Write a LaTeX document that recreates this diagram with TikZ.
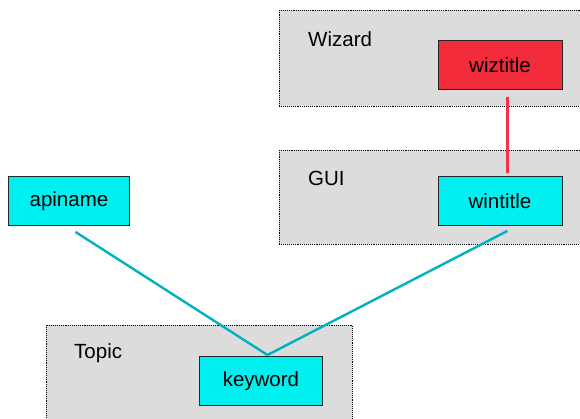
\documentclass[tikz,border=0pt]{standalone}
\usepackage{fontspec}
\setmainfont{Liberation Sans}
\definecolor{boxgray}{RGB}{220,220,220}
\definecolor{cyanfill}{RGB}{0,240,240}
\definecolor{redfill}{RGB}{243,44,60}
\definecolor{tealline}{RGB}{0,178,192}
\definecolor{redline}{RGB}{243,52,72}
\begin{document}
\begin{tikzpicture}[x=1pt,y=-1pt,
  container/.style={draw=black, densely dotted, line width=0.9pt, fill=boxgray, anchor=north west, inner sep=0pt},
  item/.style={draw=black!85, line width=0.9pt, anchor=north west, inner sep=0pt, minimum width=124pt, minimum height=49pt, font=\fontsize{20.5}{24}\selectfont},
  cyanitem/.style={item, fill=cyanfill},
  reditem/.style={item, fill=redfill},
  grouplabel/.style={anchor=west, inner sep=0pt, font=\fontsize{20.5}{24}\selectfont},
  tealconn/.style={draw=tealline, line width=2.4pt},
  redconn/.style={draw=redline, line width=2.6pt}
]
\useasboundingbox (0,0) rectangle (580,418);
\clip (0,0) rectangle (580,418);
\fill[white] (0,0) rectangle (580,418);
% containers
\node[container, minimum width=320pt, minimum height=96pt] (wizbox) at (279,10) {};
\node[container, minimum width=320pt, minimum height=94pt] (guibox) at (279,150) {};
\node[container, minimum width=306pt, minimum height=110pt] (topicbox) at (46,325) {};
% labels
\node[grouplabel] (wizlabel) at (308,39) {Wizard};
\node[grouplabel] (guilabel) at (308,178) {GUI};
\node[grouplabel] (topiclabel) at (74,353) {Topic};
% items
\node[reditem] (wiz) at (437.5,40) {wiztitle};
\node[cyanitem] (win) at (437.5,176) {wintitle};
\node[cyanitem, minimum width=121pt] (api) at (8,176) {apiname};
\node[cyanitem, minimum width=123pt] (kw) at (199,356) {keyword};
% connectors
\draw[redconn] ([xshift=7.5pt,yshift=-7pt]wiz.south) -- ([xshift=7.5pt,yshift=3pt]win.north);
\draw[tealconn] ([xshift=7.5pt,yshift=-5pt]win.south) -- ([xshift=6.5pt,yshift=1pt]kw.north);
\draw[tealconn] ([xshift=6.5pt,yshift=-6pt]api.south) -- ([xshift=6.5pt,yshift=1pt]kw.north);
\end{tikzpicture}
\end{document}
